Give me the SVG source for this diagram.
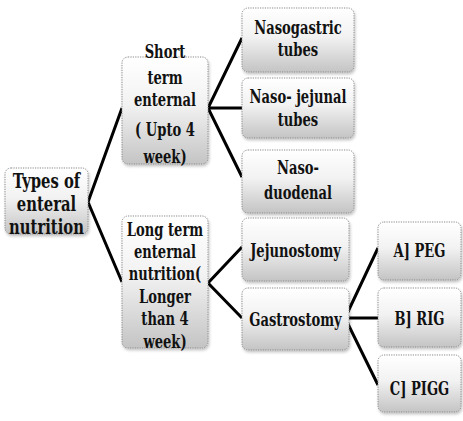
<svg xmlns="http://www.w3.org/2000/svg" width="463" height="421" viewBox="0 0 463 421">
<style>
.box{fill:url(#g);stroke:#8a8a8a;stroke-width:1;stroke-dasharray:1.2 1.2}
text{font-family:"DejaVu Serif","Liberation Serif",serif;font-weight:bold;font-size:19px;fill:#111;text-anchor:middle}
.r{font-size:20px}
.c{fill:none;stroke:#000;stroke-width:3;stroke-linejoin:miter}
</style>
<defs>
<linearGradient id="g" x1="0" y1="0" x2="0" y2="1">
<stop offset="0" stop-color="#ffffff"/>
<stop offset="0.45" stop-color="#f2f2f2"/>
<stop offset="1" stop-color="#c4c4c4"/>
</linearGradient>
<filter id="sh" x="-10%" y="-10%" width="130%" height="130%">
<feGaussianBlur in="SourceAlpha" stdDeviation="1.5"/>
<feOffset dx="1" dy="2" result="b"/>
<feComponentTransfer><feFuncA type="linear" slope="0.25"/></feComponentTransfer>
<feMerge><feMergeNode/><feMergeNode in="SourceGraphic"/></feMerge>
</filter>
</defs>
<rect width="463" height="421" fill="#fff"/>
<g id="connectors">
<path class="c" d="M122,108 L88,202 L122,282"/>
<path class="c" d="M242,38 L208,108 L242,177 M208,108 L242,108"/>
<path class="c" d="M242,247 L208,283 L242,318"/>
<path class="c" d="M378,248 L345,318 L378,385 M345,318 L378,318"/>
</g>
<g id="root">
<rect class="box" filter="url(#sh)" x="5" y="168" width="83" height="66" rx="6"/>
<g transform="translate(46.5 0) scale(0.74 1)">
<text class="r" y="188">Types of</text>
<text class="r" y="211">enteral</text>
<text class="r" y="234">nutrition</text>
</g>
</g>
<g id="short">
<rect class="box" filter="url(#sh)" x="122" y="57" width="86" height="107" rx="6"/>
<g transform="translate(165 0) scale(0.69 1)">
<text y="58">Short</text>
<text y="84">term</text>
<text y="106">enternal</text>
<text y="136">( Upto 4</text>
<text y="163">week)</text>
</g>
</g>
<g id="long">
<rect class="box" filter="url(#sh)" x="122" y="216" width="86" height="132" rx="6"/>
<g transform="translate(165 0) scale(0.69 1)">
<text y="236">Long term</text>
<text y="258">enternal</text>
<text y="280">nutrition(</text>
<text y="303">Longer</text>
<text y="325">than 4</text>
<text y="348">week)</text>
</g>
</g>
<g id="nasogastric">
<rect class="box" filter="url(#sh)" x="242" y="8" width="112" height="64" rx="6"/>
<g transform="translate(298 0) scale(0.69 1)">
<text y="34">Nasogastric</text>
<text y="56">tubes</text>
</g>
</g>
<g id="nasojejunal">
<rect class="box" filter="url(#sh)" x="242" y="78" width="112" height="60" rx="6"/>
<g transform="translate(298 0) scale(0.69 1)">
<text y="103">Naso- jejunal</text>
<text y="126">tubes</text>
</g>
</g>
<g id="nasoduodenal">
<rect class="box" filter="url(#sh)" x="242" y="150" width="112" height="63" rx="6"/>
<g transform="translate(298 0) scale(0.69 1)">
<text y="174">Naso-</text>
<text y="199">duodenal</text>
</g>
</g>
<g id="jejunostomy">
<rect class="box" filter="url(#sh)" x="242" y="218" width="107" height="63" rx="6"/>
<g transform="translate(295.5 0) scale(0.69 1)">
<text y="257">Jejunostomy</text>
</g>
</g>
<g id="gastrostomy">
<rect class="box" filter="url(#sh)" x="242" y="288" width="107" height="62" rx="6"/>
<g transform="translate(295.5 0) scale(0.69 1)">
<text y="326">Gastrostomy</text>
</g>
</g>
<g id="peg">
<rect class="box" filter="url(#sh)" x="378" y="222" width="83" height="58" rx="6"/>
<g transform="translate(419.5 0) scale(0.69 1)">
<text y="257">A] PEG</text>
</g>
</g>
<g id="rig">
<rect class="box" filter="url(#sh)" x="378" y="288" width="83" height="59" rx="6"/>
<g transform="translate(419.5 0) scale(0.69 1)">
<text y="325">B] RIG</text>
</g>
</g>
<g id="pigg">
<rect class="box" filter="url(#sh)" x="378" y="355" width="83" height="57" rx="6"/>
<g transform="translate(419.5 0) scale(0.69 1)">
<text y="395">C] PIGG</text>
</g>
</g>
</svg>
